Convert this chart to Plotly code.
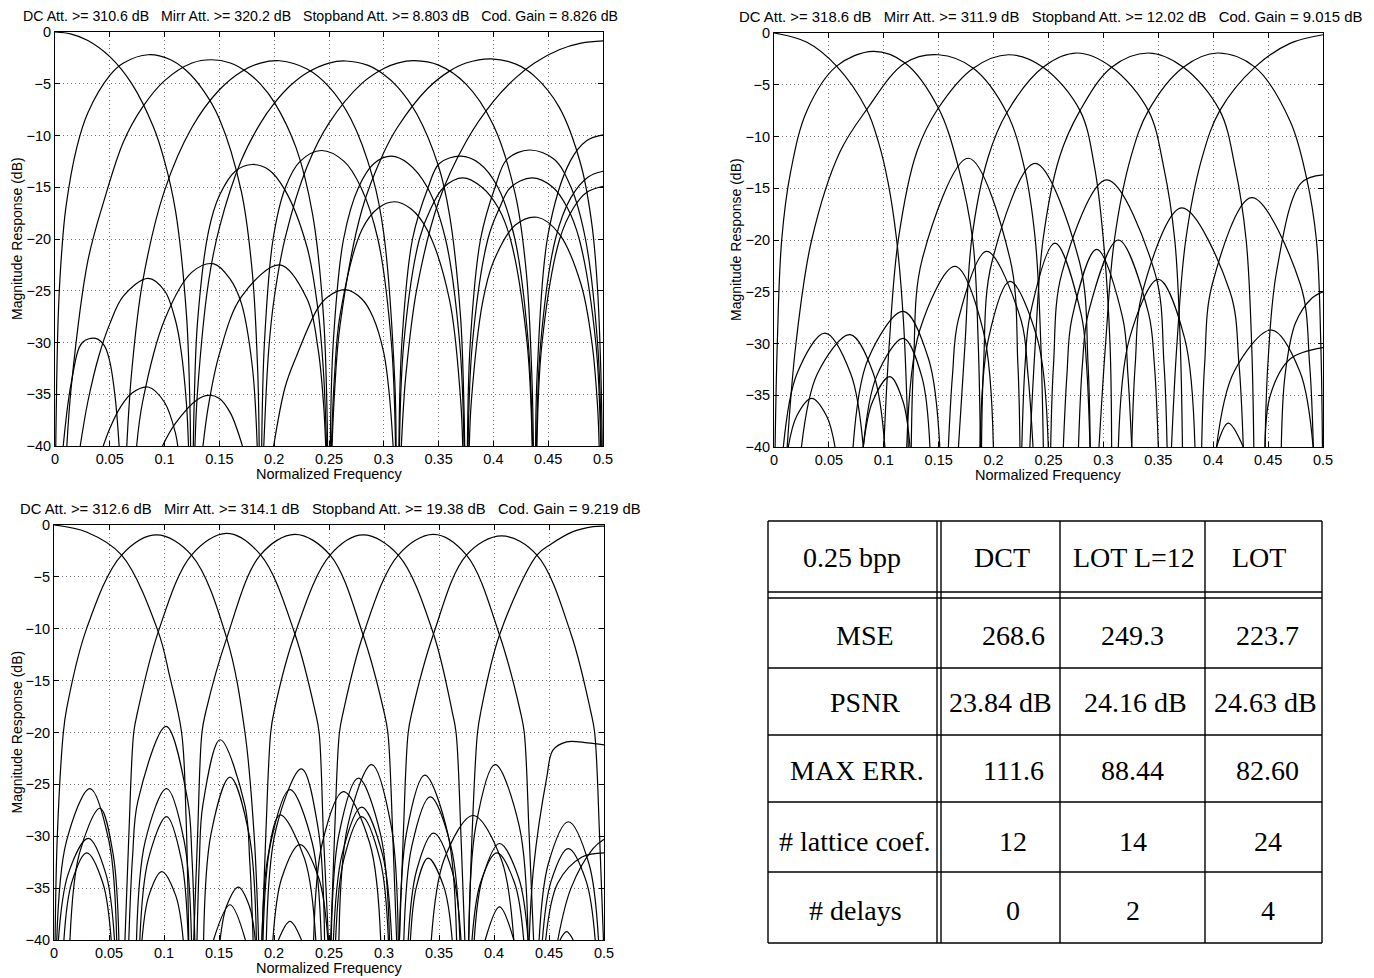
import plotly.graph_objects as go

# ---------------------------------------------------------------- data
# Each lobe is a list of (normalized frequency, magnitude dB) points.
# Panel 1: DCT
p1_lobes = [
    [(0, 0), (0.015, -0.2), (0.03, -0.82), (0.05, -2.38), (0.07, -4.99), (0.09, -9.23), (0.10, -12.5), (0.11, -17.3), (0.12, -27.4), (0.123, -35.6), (0.1237, -40)],
    [(0.1262, -40), (0.127, -35.9), (0.13, -28.1), (0.14, -19.3), (0.15, -15.8), (0.165, -13.4), (0.18, -12.8), (0.195, -13.3), (0.21, -15.3), (0.23, -20.8), (0.24, -26.9), (0.245, -32.9), (0.2477, -40)],
    [(0.2522, -40), (0.255, -33.3), (0.26, -27.4), (0.28, -19.1), (0.295, -17.0), (0.31, -16.4), (0.325, -17.1), (0.34, -19.2), (0.36, -25.9), (0.37, -35.4), (0.372, -40)],
    [(0.378, -40), (0.38, -35.5), (0.39, -26.2), (0.4, -22.2), (0.42, -18.65), (0.44, -17.9), (0.46, -19.5), (0.48, -24.4), (0.49, -30.1), (0.495, -36.1), (0.4965, -40)],
    [(0.0007, -40), (0.003, -27.3), (0.006, -21.4), (0.01, -16.9), (0.02, -11.1), (0.03, -7.8), (0.05, -4.2), (0.0625, -3.0), (0.085, -2.2), (0.105, -2.66), (0.12, -3.75), (0.135, -5.6), (0.15, -8.4), (0.17, -15.4), (0.18, -23.2), (0.185, -32.9), (0.1863, -40)],
    [(0.1886, -40), (0.1911, -30), (0.199, -20), (0.2103, -15), (0.2236, -12.5), (0.243, -11.45), (0.2638, -12.5), (0.2791, -15), (0.2946, -20), (0.3069, -30), (0.3107, -40)],
    [(0.3143, -40), (0.3183, -30), (0.3325, -20), (0.3431, -17), (0.3548, -15), (0.372, -14.1), (0.3895, -15), (0.4045, -17), (0.4155, -20), (0.4307, -30), (0.4354, -40)],
    [(0.4397, -40), (0.4444, -30), (0.4605, -20), (0.473, -17), (0.485, -15.5), (0.5, -14.9)],
    [(0.0108, -40), (0.015, -34.1), (0.03, -22.1), (0.045, -16.2), (0.0625, -10.6), (0.08, -7.24), (0.1, -4.7), (0.125, -3.0), (0.143, -2.68), (0.16, -2.99), (0.175, -3.86), (0.1875, -5.04), (0.2, -6.77), (0.22, -11.2), (0.235, -17.6), (0.245, -27.5), (0.2487, -40)],
    [(0.2512, -40), (0.2539, -30), (0.2633, -20), (0.277, -15), (0.2911, -12.7), (0.307, -12.0), (0.3222, -12.7), (0.3397, -15), (0.3563, -20), (0.3692, -30), (0.3732, -40)],
    [(0.3769, -40), (0.3809, -30), (0.395, -20), (0.4056, -17), (0.4158, -15), (0.435, -14.1), (0.4542, -15), (0.4676, -17), (0.4783, -20), (0.4934, -30), (0.4979, -40)],
    [(0.0075, -40), (0.015, -33.8), (0.025, -30.0), (0.037, -29.6), (0.045, -30.3), (0.05, -31.85), (0.055, -35.4), (0.0585, -40)],
    [(0.0655, -40), (0.07, -32.8), (0.08, -24.1), (0.1, -15.3), (0.125, -9.2), (0.15, -5.58), (0.17, -3.83), (0.1875, -3.0), (0.205, -2.78), (0.23, -3.58), (0.25, -5.3), (0.27, -8.4), (0.29, -14.1), (0.3, -19.5), (0.31, -33.7), (0.3112, -40)],
    [(0.3138, -40), (0.3165, -30), (0.3262, -20), (0.3405, -15), (0.3507, -12.7), (0.37, -12.0), (0.3873, -12.7), (0.4041, -15), (0.4196, -20), (0.4318, -30), (0.4357, -40)],
    [(0.4393, -40), (0.4432, -30), (0.4566, -20), (0.4707, -16), (0.4865, -14), (0.5, -13.45)],
    [(0.023, -40), (0.03, -35.7), (0.04, -31.3), (0.05, -28.2), (0.0625, -25.5), (0.085, -23.8), (0.1, -25.0), (0.11, -27.9), (0.115, -30.75), (0.12, -36.0), (0.1218, -40)],
    [(0.1277, -40), (0.13, -34.8), (0.14, -24.2), (0.15, -18.9), (0.17, -12.4), (0.1875, -8.8), (0.2, -6.9), (0.215, -5.15), (0.23, -3.93), (0.25, -3.0), (0.265, -2.8), (0.285, -3.2), (0.3, -4.1), (0.3125, -5.3), (0.33, -7.9), (0.35, -13.0), (0.36, -17.7), (0.37, -27.5), (0.373, -35.6), (0.3738, -40)],
    [(0.3763, -40), (0.3789, -30), (0.3883, -20), (0.4015, -15), (0.4124, -12.3), (0.433, -11.4), (0.4554, -12.3), (0.4708, -15), (0.484, -20), (0.495, -30), (0.4984, -40)],
    [(0.0745, -40), (0.08, -35.7), (0.1, -27.8), (0.125, -23.2), (0.145, -22.4), (0.16, -23.9), (0.17, -26.2), (0.18, -32.3), (0.1845, -40)],
    [(0.1905, -40), (0.195, -30.7), (0.2, -25.7), (0.21, -19.9), (0.23, -13.0), (0.25, -8.8), (0.28, -4.96), (0.3, -3.52), (0.3125, -3.0), (0.328, -2.77), (0.35, -3.2), (0.375, -5.04), (0.4, -9.0), (0.42, -15.7), (0.43, -23.2), (0.435, -33.0), (0.4365, -40)],
    [(0.4385, -40), (0.44, -32.9), (0.45, -19.5), (0.47, -12.5), (0.485, -10.5), (0.5, -9.94)],
    [(0.044, -40), (0.05, -38.3), (0.06, -36.2), (0.07, -34.9), (0.085, -34.3), (0.1, -35.8), (0.11, -38.8), (0.112, -40)],
    [(0.135, -40), (0.14, -36.1), (0.15, -31.1), (0.17, -25.6), (0.205, -22.5), (0.23, -25.8), (0.24, -30.6), (0.245, -35.9), (0.247, -40)],
    [(0.2528, -40), (0.255, -34.9), (0.26, -28.4), (0.28, -17.2), (0.3, -11.65), (0.3125, -9.2), (0.34, -5.46), (0.36, -3.78), (0.375, -3.0), (0.398, -2.59), (0.42, -3.08), (0.4375, -4.26), (0.46, -7.26), (0.48, -12.9), (0.49, -18.7), (0.495, -24.8), (0.498, -32.7), (0.4993, -40)],
    [(0.098, -40), (0.11, -37.8), (0.13, -35.5), (0.14, -35.1), (0.15, -35.4), (0.16, -36.8), (0.171, -40)],
    [(0.1995, -40), (0.21, -34.3), (0.22, -31.4), (0.24, -26.65), (0.25, -25.5), (0.265, -24.9), (0.28, -25.8), (0.29, -27.5), (0.3, -31.0), (0.305, -35.0), (0.3085, -40)],
    [(0.316, -40), (0.318, -36.1), (0.32, -33.3), (0.33, -24.9), (0.35, -16.4), (0.375, -10.6), (0.4, -6.7), (0.42, -4.46), (0.4375, -3.0), (0.46, -1.72), (0.48, -1.08), (0.5, -0.86)],
]

# Panel 2: LOT L=12
p2_lobes = [
    [(0, 0), (0.03, -0.9), (0.057, -3.2), (0.0844, -7.4), (0.095, -10.5), (0.104, -14.5), (0.1117, -20), (0.118, -28), (0.1223, -40)],
    [(0.001, -40), (0.003, -30), (0.007, -20), (0.015, -13.5), (0.03, -7.5), (0.057, -3.2), (0.0905, -1.78), (0.1193, -2.9), (0.1497, -7.25), (0.168, -13), (0.181, -20), (0.186, -30), (0.188, -40)],
    [(0.012, -40), (0.02, -30), (0.0343, -20), (0.06, -11.5), (0.0844, -7.4), (0.1193, -2.9), (0.1497, -2.1), (0.1815, -3.4), (0.212, -7.7), (0.228, -13), (0.238, -20), (0.243, -30), (0.2453, -40)],
    [(0.1, -40), (0.105, -30), (0.1132, -20), (0.13, -11.5), (0.1497, -7.25), (0.1815, -3.4), (0.2135, -2.1), (0.245, -3.3), (0.2787, -7.5), (0.292, -13), (0.30, -20), (0.306, -30), (0.3075, -40)],
    [(0.168, -40), (0.174, -30), (0.18, -20), (0.195, -12), (0.212, -7.7), (0.245, -3.3), (0.276, -1.93), (0.3075, -3.3), (0.341, -7.5), (0.355, -13), (0.365, -20), (0.37, -30), (0.372, -40)],
    [(0.233, -40), (0.238, -30), (0.245, -20), (0.26, -12), (0.2787, -7.5), (0.3075, -3.3), (0.341, -1.93), (0.3728, -3.3), (0.406, -7.5), (0.42, -13), (0.43, -20), (0.435, -30), (0.437, -40)],
    [(0.296, -40), (0.302, -30), (0.31, -20), (0.325, -12), (0.341, -7.5), (0.3728, -3.3), (0.404, -1.93), (0.438, -3.3), (0.47, -8.5), (0.485, -14), (0.494, -20), (0.498, -30), (0.4995, -40)],
    [(0.362, -40), (0.367, -30), (0.375, -20), (0.39, -12), (0.406, -7.5), (0.438, -3.3), (0.47, -1.0), (0.5, -0.17)],
    [(0.125, -40), (0.1271, -32), (0.1349, -21.9), (0.177, -12.1), (0.2151, -21.9), (0.2221, -32), (0.224, -40)],
    [(0.189, -40), (0.1909, -32), (0.1983, -22.2), (0.2377, -12.6), (0.2784, -22.2), (0.286, -32), (0.288, -40)],
    [(0.252, -40), (0.2546, -32), (0.2622, -23.2), (0.303, -14.2), (0.347, -23.2), (0.3552, -32), (0.358, -40)],
    [(0.3258, -40), (0.329, -32), (0.3356, -25), (0.3713, -16.9), (0.4153, -25), (0.4235, -32), (0.4274, -40)],
    [(0.3895, -40), (0.3922, -32), (0.3991, -24.3), (0.435, -15.9), (0.4794, -24.3), (0.4878, -32), (0.4912, -40)],
    [(0.4472, -40), (0.4498, -32), (0.4578, -23), (0.48, -14.5), (0.5, -13.7)],
    [(0.1209, -40), (0.1328, -28.7), (0.1649, -22.55), (0.1904, -28.7), (0.1998, -40)],
    [(0.1588, -40), (0.1626, -33), (0.1679, -27.7), (0.1937, -21.1), (0.2249, -27.7), (0.2313, -33), (0.2359, -40)],
    [(0.1876, -40), (0.1952, -29.6), (0.2149, -24.0), (0.24, -29.6), (0.2498, -40)],
    [(0.2257, -40), (0.2287, -32), (0.2333, -27.2), (0.2559, -20.3), (0.2798, -27.2), (0.2846, -32), (0.2878, -40)],
    [(0.2635, -40), (0.2668, -33), (0.2713, -27.6), (0.2939, -20.9), (0.3177, -27.6), (0.3223, -33), (0.3258, -40)],
    [(0.2773, -40), (0.2809, -32), (0.2864, -27), (0.3136, -20.0), (0.3409, -27), (0.3464, -32), (0.35, -40)],
    [(0.3136, -40), (0.3238, -29.5), (0.35, -23.8), (0.374, -29.5), (0.3834, -40)],
    [(0.4031, -40), (0.4137, -37.7), (0.4274, -40)],
    [(0.403, -40), (0.4191, -32.7), (0.4533, -28.7), (0.4789, -32.7), (0.491, -40)],
    [(0.462, -40), (0.4655, -33), (0.475, -28), (0.49, -25.6), (0.5, -25)],
    [(0.4472, -40), (0.452, -35), (0.47, -31.5), (0.5, -30.4)],
    [(0.0085, -40), (0.021, -32.9), (0.0464, -29.0), (0.0698, -32.9), (0.0813, -40)],
    [(0.025, -40), (0.0396, -32.9), (0.0692, -29.15), (0.0905, -32.9), (0.101, -40)],
    [(0.013, -40), (0.0207, -37), (0.0343, -35.3), (0.0479, -37), (0.0556, -40)],
    [(0.0813, -40), (0.0898, -35.6), (0.1056, -33.2), (0.1175, -35.6), (0.1239, -40)],
    [(0.072, -40), (0.0857, -31.5), (0.1178, -26.9), (0.1408, -31.5), (0.151, -40)],
    [(0.0813, -40), (0.0933, -33.2), (0.1178, -29.5), (0.1346, -33.2), (0.142, -40)],
]

# Panel 3: LOT
p3_lobes = [
    [(0, 0), (0.03, -0.7), (0.0615, -2.9), (0.0948, -10.3), (0.105, -14.5), (0.116, -20), (0.12, -28), (0.1225, -40)],
    [(0.001, -40), (0.003, -30), (0.0085, -20), (0.0115, -17.7), (0.0297, -9.96), (0.0615, -2.9), (0.0933, -0.96), (0.125, -2.9), (0.157, -10.9), (0.1736, -20), (0.182, -30), (0.186, -40)],
    [(0.0645, -40), (0.068, -30), (0.0725, -20), (0.076, -18), (0.0948, -10.3), (0.125, -2.9), (0.157, -0.8), (0.188, -2.9), (0.219, -10.5), (0.2375, -18), (0.241, -20), (0.245, -30), (0.2495, -40)],
    [(0.127, -40), (0.1305, -30), (0.1345, -20), (0.138, -18), (0.157, -10.9), (0.1875, -2.9), (0.219, -0.9), (0.251, -2.9), (0.281, -10.6), (0.3, -18), (0.3035, -20), (0.308, -30), (0.3115, -40)],
    [(0.189, -40), (0.1925, -30), (0.197, -20), (0.2, -18), (0.219, -10.5), (0.251, -2.9), (0.281, -0.96), (0.313, -2.9), (0.345, -10.5), (0.362, -18), (0.3655, -20), (0.37, -30), (0.3735, -40)],
    [(0.2515, -40), (0.255, -30), (0.2595, -20), (0.263, -18), (0.281, -10.6), (0.313, -2.9), (0.345, -0.9), (0.375, -2.9), (0.405, -10.6), (0.424, -18), (0.4275, -20), (0.432, -30), (0.436, -40)],
    [(0.314, -40), (0.3175, -30), (0.322, -20), (0.3255, -18), (0.345, -10.5), (0.375, -2.9), (0.407, -1.05), (0.439, -2.9), (0.47, -10.5), (0.488, -18), (0.4915, -20), (0.496, -30), (0.4995, -40)],
    [(0.377, -40), (0.38, -30), (0.385, -20), (0.388, -18), (0.405, -10.6), (0.439, -2.9), (0.451, -1.9), (0.4718, -0.64), (0.49, -0.15), (0.5, -0.1)],
    [(0.0025, -40), (0.0113, -30.5), (0.0327, -25.4), (0.05, -30.5), (0.057, -40)],
    [(0.0145, -40), (0.023, -31.7), (0.0418, -27.3), (0.0537, -31.7), (0.059, -40)],
    [(0.004, -40), (0.013, -33.6), (0.0312, -30.2), (0.0471, -33.6), (0.055, -40)],
    [(0.009, -40), (0.016, -34.5), (0.0297, -31.6), (0.0444, -34.5), (0.052, -40)],
    [(0.068, -40), (0.0714, -32), (0.0763, -26.6), (0.102, -19.4), (0.1216, -26.6), (0.1254, -32), (0.128, -40)],
    [(0.075, -40), (0.0829, -30.5), (0.1024, -25.4), (0.1184, -30.5), (0.125, -40)],
    [(0.078, -40), (0.0856, -32.3), (0.1024, -28.1), (0.1159, -32.3), (0.122, -40)],
    [(0.08, -40), (0.0863, -35.7), (0.0979, -33.4), (0.1106, -35.7), (0.1175, -40)],
    [(0.13, -40), (0.1321, -32.5), (0.1353, -27.0), (0.151, -20.7), (0.1735, -27.0), (0.178, -32.5), (0.181, -40)],
    [(0.136, -40), (0.1427, -29.8), (0.16, -24.3), (0.1773, -29.8), (0.184, -40)],
    [(0.151, -40), (0.157, -36.7), (0.1676, -34.9), (0.1775, -36.7), (0.183, -40)],
    [(0.145, -40), (0.16, -36.6), (0.174, -40)],
    [(0.193, -40), (0.2018, -29.3), (0.225, -23.5), (0.2402, -29.3), (0.246, -40)],
    [(0.19, -40), (0.1971, -30.6), (0.2145, -25.5), (0.2347, -30.6), (0.243, -40)],
    [(0.189, -40), (0.1941, -32.2), (0.2055, -27.95), (0.2279, -32.2), (0.238, -40)],
    [(0.199, -40), (0.2071, -34.0), (0.2236, -30.8), (0.2406, -34.0), (0.249, -40)],
    [(0.204, -40), (0.2145, -38.2), (0.225, -40)],
    [(0.259, -40), (0.267, -29.0), (0.2888, -23.1), (0.3065, -29.0), (0.313, -40)],
    [(0.252, -40), (0.2589, -29.9), (0.2766, -24.4), (0.297, -29.9), (0.305, -40)],
    [(0.236, -40), (0.2438, -30.7), (0.263, -25.7), (0.2871, -30.7), (0.297, -40)],
    [(0.254, -40), (0.262, -31.7), (0.2797, -27.2), (0.2985, -31.7), (0.307, -40)],
    [(0.256, -40), (0.2633, -32.3), (0.2797, -28.1), (0.2965, -32.3), (0.304, -40)],
    [(0.314, -40), (0.3204, -29.7), (0.337, -24.1), (0.3579, -29.7), (0.366, -40)],
    [(0.318, -40), (0.3252, -31.0), (0.342, -26.2), (0.3609, -31.0), (0.369, -40)],
    [(0.322, -40), (0.3296, -33.3), (0.345, -29.7), (0.3618, -33.3), (0.37, -40)],
    [(0.324, -40), (0.3294, -34.9), (0.34, -32.1), (0.3545, -34.9), (0.362, -40)],
    [(0.343, -40), (0.3548, -32.2), (0.381, -28.0), (0.4065, -32.2), (0.418, -40)],
    [(0.377, -40), (0.3835, -29.0), (0.401, -23.1), (0.4229, -29.0), (0.431, -40)],
    [(0.382, -40), (0.3896, -34.0), (0.405, -30.7), (0.4224, -34.0), (0.431, -40)],
    [(0.38, -40), (0.3877, -34.5), (0.4025, -31.6), (0.4187, -34.5), (0.427, -40)],
    [(0.392, -40), (0.405, -36.8), (0.418, -40)],
    [(0.441, -40), (0.4495, -32.6), (0.4675, -28.6), (0.4862, -32.6), (0.495, -40)],
    [(0.444, -40), (0.452, -34.3), (0.4675, -31.2), (0.4837, -34.3), (0.492, -40)],
    [(0.46, -40), (0.466, -39.2), (0.472, -40)],
    [(0.458, -40), (0.47, -35), (0.49, -31.2), (0.5, -30.3)],
    [(0.447, -40), (0.458, -34.5), (0.48, -32), (0.5, -31.6)],
    [(0.432, -40), (0.436, -33), (0.448, -24.3), (0.4536, -21.7), (0.466, -20.9), (0.485, -21.0), (0.5, -21.2)],
]

titles = [
    ["DC Att. >= 310.6 dB", "Mirr Att. >= 320.2 dB", "Stopband Att. >= 8.803 dB", "Cod. Gain = 8.826 dB"],
    ["DC Att. >= 318.6 dB", "Mirr Att. >= 311.9 dB", "Stopband Att. >= 12.02 dB", "Cod. Gain = 9.015 dB"],
    ["DC Att. >= 312.6 dB", "Mirr Att. >= 314.1 dB", "Stopband Att. >= 19.38 dB", "Cod. Gain = 9.219 dB"],
]

table_header = ["0.25 bpp", "DCT", "LOT L=12", "LOT"]
row_labels = ["MSE", "PSNR", "MAX ERR.", "# lattice coef.", "# delays"]
dct_col = ["268.6", "23.84 dB", "111.6", "12", "0"]
lot12_col = ["249.3", "24.16 dB", "88.44", "14", "2"]
lot_col = ["223.7", "24.63 dB", "82.60", "24", "4"]

# ---------------------------------------------------------------- layout helpers
W, H = 1374, 978
FONT = "Liberation Sans, Arial, Helvetica, sans-serif"
SERIF = "Liberation Serif, Times New Roman, serif"


def px(x):
    return x / W


def py(y):
    return 1 - y / H


def flatten(lobes):
    xs, ys = [], []
    for lobe in lobes:
        for f, d in lobe:
            xs.append(f)
            ys.append(d)
        xs.append(None)
        ys.append(None)
    return xs, ys


# panel boxes in pixels: (left, right, top, bottom)
boxes = [(55, 603, 32, 446), (774, 1323, 33, 447), (54, 604, 525, 940)]
title_pos = [(320, 16, 14.2), (1051, 17, 14.9), (330, 509, 14.8)]

fig = go.Figure()
for i, lobes in enumerate([p1_lobes, p2_lobes, p3_lobes]):
    xs, ys = flatten(lobes)
    sfx = "" if i == 0 else str(i + 1)
    fig.add_trace(go.Scatter(
        x=xs, y=ys, mode="lines", xaxis="x" + sfx, yaxis="y" + sfx,
        line=dict(color="black", width=1.2, shape="spline", smoothing=1.0),
        connectgaps=False, hoverinfo="skip", showlegend=False,
    ))

axis_common = dict(
    showline=True, linecolor="black", linewidth=1, mirror="ticks",
    ticks="inside", ticklen=5, tickcolor="black", tickwidth=1,
    showgrid=True, gridcolor="#6e6e6e", griddash="1px,3px", gridwidth=1,
    zeroline=False, tickfont=dict(family=FONT, size=14.5, color="black"),
    fixedrange=True, automargin=False,
)

layout = dict(
    template="none",
    width=W, height=H, margin=dict(l=0, r=0, t=0, b=0, pad=0, autoexpand=False),
    paper_bgcolor="white", plot_bgcolor="white", showlegend=False,
    font=dict(family=FONT, size=14, color="black"),
)
annotations = []
for i, (l, r, t, b) in enumerate(boxes):
    sfx = "" if i == 0 else str(i + 1)
    layout["xaxis" + sfx] = dict(
        axis_common, domain=[px(l), px(r)], range=[0, 0.5], tick0=0, dtick=0.05,
        anchor="y" + sfx,
    )
    layout["yaxis" + sfx] = dict(
        axis_common, domain=[py(b), py(t)], range=[-40, 0], tick0=0, dtick=5,
        anchor="x" + sfx,
    )
    sep = "\u00a0\u00a0\u00a0"
    tx, ty, tsz = title_pos[i]
    annotations.append(dict(
        text=sep.join(titles[i]), xref="paper", yref="paper",
        x=px(tx), y=py(ty), xanchor="center", yanchor="middle",
        showarrow=False, font=dict(family=FONT, size=tsz, color="black"),
    ))
    annotations.append(dict(
        text="Normalized Frequency", xref="paper", yref="paper",
        x=px((l + r) / 2), y=py(b + 28), xanchor="center", yanchor="middle",
        showarrow=False, font=dict(family=FONT, size=14.5, color="black"),
    ))
    annotations.append(dict(
        text="Magnitude Response (dB)", xref="paper", yref="paper",
        x=px(l - 38), y=py((t + b) / 2), xanchor="center", yanchor="middle",
        textangle=-90, showarrow=False, font=dict(family=FONT, size=14, color="black"),
    ))

# ---------------------------------------------------------------- table
shapes = []
tx0, tx1, ty0, ty1 = 768, 1322, 521, 943
col_lines = [937, 941, 1060, 1205]
row_lines = [592, 598, 668, 735, 802, 872]


def line(x0, y0, x1, y1, w=1.4):
    shapes.append(dict(type="line", xref="paper", yref="paper",
                       x0=px(x0), y0=py(y0), x1=px(x1), y1=py(y1),
                       line=dict(color="black", width=w)))


line(tx0, ty0, tx1, ty0)
line(tx0, ty1, tx1, ty1)
line(tx0, ty0, tx0, ty1)
line(tx1, ty0, tx1, ty1)
for cx in col_lines:
    line(cx, ty0, cx, ty1)
for ry in row_lines:
    line(tx0, ry, tx1, ry)

row_centers = [557, 635, 702, 770, 841, 910]
label_x = [864.5, 865, 857, 855, 855.5]
head_x = [851.5, 1001.5, 1134, 1259]
col_x = [1000.5, 1135, 1265]
num_x = [1013, 1132.5, 1267.5]


def cell(text, x, y):
    annotations.append(dict(
        text=text, xref="paper", yref="paper", x=px(x), y=py(y),
        xanchor="center", yanchor="middle", showarrow=False,
        font=dict(family=SERIF, size=28, color="black"),
    ))


for j in range(4):
    cell(table_header[j], head_x[j], row_centers[0])
for i, lab in enumerate(row_labels):
    cell(lab, label_x[i], row_centers[i + 1])
    for j, col in enumerate([dct_col, lot12_col, lot_col]):
        xx = col_x[j] if "dB" in col[i] else num_x[j]
        cell(col[i], xx, row_centers[i + 1])

layout["annotations"] = annotations
layout["shapes"] = shapes
fig.update_layout(layout)
fig.write_html(
    "out.html",
    config={"displayModeBar": False, "staticPlot": True},
    post_script="document.body.style.margin='0px';document.body.style.padding='0px';",
)
